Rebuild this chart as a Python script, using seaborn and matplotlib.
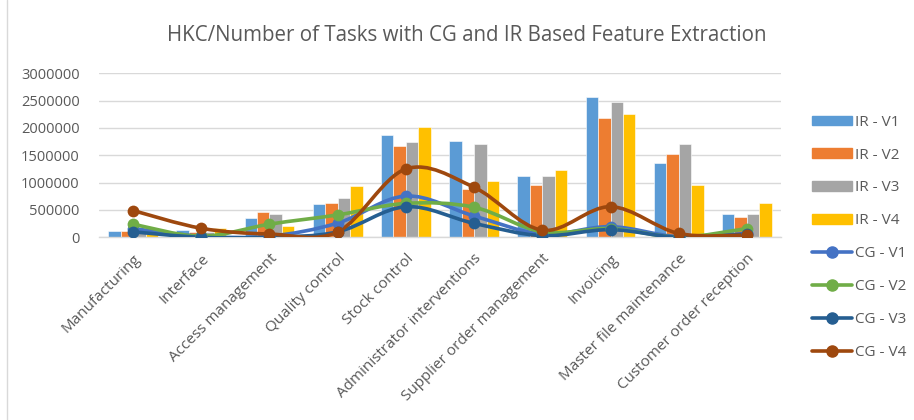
import numpy as np
import pandas as pd
import matplotlib
matplotlib.use("Agg")
import matplotlib.pyplot as plt
from matplotlib.path import Path
from matplotlib.patches import PathPatch, Patch
from matplotlib.lines import Line2D
from matplotlib.ticker import FuncFormatter
import seaborn as sns

categories = ["Manufacturing", "Interface", "Access management", "Quality control",
              "Stock control", "Administrator interventions", "Supplier order management",
              "Invoicing", "Master file maintenance", "Customer order reception"]

ir_v1 = [120000, 130000, 350000, 610000, 1865000, 1760000, 1130000, 2565000, 1350000, 430000]
ir_v2 = [120000, 90000, 460000, 630000, 1670000, 890000, 950000, 2190000, 1520000, 370000]
ir_v3 = [110000, 100000, 430000, 720000, 1740000, 1705000, 1130000, 2470000, 1700000, 420000]
ir_v4 = [60000, 170000, 210000, 940000, 2010000, 1035000, 1230000, 2250000, 960000, 630000]

cg_v1 = [160000, 20000, 20000, 260000, 755000, 390000, 60000, 195000, 10000, 70000]
cg_v2 = [240000, 20000, 240000, 410000, 620000, 550000, 100000, 160000, 5000, 160000]
cg_v3 = [100000, 0, 0, 100000, 560000, 255000, 30000, 140000, 0, 60000]
cg_v4 = [490000, 165000, 60000, 100000, 1250000, 915000, 130000, 560000, 70000, 40000]

bar_names = ["IR - V1", "IR - V2", "IR - V3", "IR - V4"]
line_names = ["CG - V1", "CG - V2", "CG - V3", "CG - V4"]
bar_colors = ["#5B9BD5", "#ED7D31", "#A5A5A5", "#FFC000"]
line_colors = ["#4472C4", "#70AD47", "#255E91", "#9E480E"]

yticks = [0, 500000, 1000000, 1500000, 2000000, 2500000, 3000000]
title = "HKC/Number of Tasks with CG and IR Based Feature Extraction"

sns.set_theme(style="white")
plt.rcParams["font.family"] = ["Open Sans", "DejaVu Sans"]
text_color = "#595959"

fig = plt.figure(figsize=(9.14, 4.2), dpi=100)
ax = fig.add_axes([0.1083, 0.435, 0.7462, 0.3905])

bars = pd.DataFrame({
    "category": np.repeat(categories, 4),
    "series": bar_names * len(categories),
    "value": np.ravel(np.column_stack([ir_v1, ir_v2, ir_v3, ir_v4])),
})
sns.barplot(data=bars, x="category", y="value", hue="series", order=categories,
            hue_order=bar_names, palette=bar_colors, width=0.73, gap=0.0,
            saturation=1, legend=False, ax=ax, zorder=2, edgecolor="white", linewidth=0.4)


def smooth_path(xs, ys):
    pts = np.column_stack([xs, ys]).astype(float)
    n = len(pts)
    verts = [pts[0]]
    codes = [Path.MOVETO]
    for i in range(n - 1):
        p0 = pts[max(i - 1, 0)]
        p1 = pts[i]
        p2 = pts[i + 1]
        p3 = pts[min(i + 2, n - 1)]
        c1 = p1 + (p2 - p0) / 6.0
        c2 = p2 - (p3 - p1) / 6.0
        verts += [c1, c2, p2]
        codes += [Path.CURVE4] * 3
    return Path(verts, codes)


xpos = np.arange(len(categories))
for name, vals, col in zip(line_names, [cg_v1, cg_v2, cg_v3, cg_v4], line_colors):
    patch = PathPatch(smooth_path(xpos, vals), facecolor="none", edgecolor=col,
                      lw=2.6, zorder=3, capstyle="round", joinstyle="round")
    ax.add_patch(patch)
    sns.scatterplot(x=xpos, y=vals, color=col, s=72, edgecolor=col, linewidth=0,
                    ax=ax, zorder=4, legend=False)

ax.set_xlim(-0.5, len(categories) - 0.5)
ax.set_ylim(0, 3000000)
ax.set_yticks(yticks)
ax.yaxis.set_major_formatter(FuncFormatter(lambda v, p: f"{int(v)}"))
ax.grid(axis="y", color="#D9D9D9", lw=1.0, zorder=0)
ax.set_axisbelow(True)
for s in ["top", "right", "left"]:
    ax.spines[s].set_visible(False)
ax.spines["bottom"].set_color("#D9D9D9")
ax.spines["bottom"].set_linewidth(1.0)
ax.set_xlabel("")
ax.set_ylabel("")
ax.tick_params(axis="both", length=0, colors=text_color)
ax.tick_params(axis="y", pad=14, labelsize=10.5)
ax.set_xticks(xpos)
ax.set_xticklabels(categories, rotation=45, ha="right", rotation_mode="anchor")
ax.tick_params(axis="x", pad=10, labelsize=11)

fig.text(0.511, 0.915, title, ha="center", va="center", fontsize=14.8, color=text_color)

handles = [Patch(facecolor=c, edgecolor=c) for c in bar_colors]
handles += [Line2D([0], [0], color=c, lw=2.6, marker="o", markersize=8) for c in line_colors]
leg = fig.legend(handles, bar_names + line_names, loc="upper left",
                 bbox_to_anchor=(0.88, 0.745), frameon=False, fontsize=11,
                 handlelength=2.6, handleheight=0.6, labelspacing=1.17,
                 handletextpad=0.2, borderpad=0)
for t in leg.get_texts():
    t.set_color(text_color)

fig.add_artist(Line2D([0.008, 0.008], [0, 1], color="#D9D9D9", lw=1.0,
                      transform=fig.transFigure))

fig.savefig("out.png", dpi=100, facecolor="white")
